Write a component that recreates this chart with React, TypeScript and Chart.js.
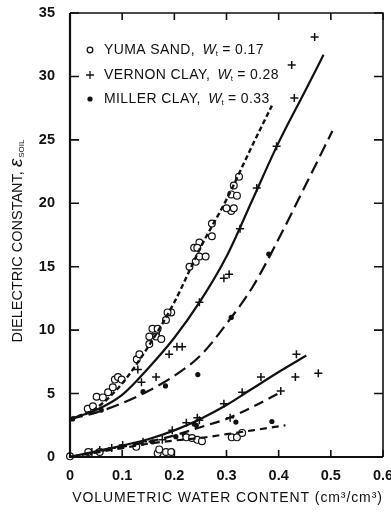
import React, { useEffect, useRef } from "react";
import { Chart, registerables } from "chart.js";
Chart.register(...registerables);

// ---- measured points (real part, upper group) ----
const yumaUpperX = [0.034, 0.044, 0.051, 0.063, 0.073, 0.082, 0.086, 0.092, 0.099, 0.128, 0.133, 0.152, 0.165, 0.158, 0.165, 0.152, 0.175, 0.168, 0.184, 0.194, 0.187, 0.229, 0.241, 0.248, 0.26, 0.238, 0.248, 0.244, 0.272, 0.272, 0.309, 0.314, 0.3, 0.309, 0.32, 0.314, 0.324];
const yumaUpperY = [3.8, 4.0, 4.75, 4.7, 5.1, 5.5, 6.1, 6.3, 6.1, 7.7, 8.1, 8.9, 9.8, 10.1, 9.5, 9.5, 9.3, 10.1, 10.8, 11.4, 11.4, 15.0, 15.4, 15.8, 15.8, 16.5, 16.9, 16.5, 17.4, 18.4, 19.4, 19.6, 19.6, 20.7, 20.6, 21.4, 22.1];
const vernonUpperX = [0.13, 0.137, 0.165, 0.19, 0.205, 0.215, 0.248, 0.295, 0.305, 0.326, 0.358, 0.396, 0.43, 0.425, 0.469];
const vernonUpperY = [6.9, 5.9, 6.3, 8.1, 8.7, 8.7, 12.2, 14.1, 14.4, 18.0, 21.2, 24.5, 28.3, 30.9, 33.1];
const millerUpperX = [0.005, 0.06, 0.14, 0.183, 0.245, 0.309, 0.381];
const millerUpperY = [3.0, 3.7, 5.15, 5.6, 6.5, 11.0, 16.0];

// ---- measured points (lower group) ----
const yumaLowerX = [0.0, 0.035, 0.057, 0.127, 0.168, 0.171, 0.184, 0.194, 0.223, 0.234, 0.244, 0.253, 0.31, 0.32, 0.33];
const yumaLowerY = [0.05, 0.4, 0.4, 0.8, 0.3, 0.6, 0.4, 0.4, 1.55, 1.5, 1.35, 1.25, 1.55, 1.55, 1.9];
const vernonLowerX = [0.042, 0.057, 0.08, 0.101, 0.14, 0.177, 0.196, 0.223, 0.248, 0.244, 0.307, 0.295, 0.33, 0.404, 0.366, 0.432, 0.476, 0.434];
const vernonLowerY = [0.4, 0.55, 0.7, 0.95, 1.2, 1.35, 2.1, 2.7, 2.9, 3.1, 3.1, 4.2, 5.1, 5.2, 6.3, 6.3, 6.6, 8.1];
const millerLowerX = [0.099, 0.158, 0.203, 0.219, 0.238, 0.242, 0.318, 0.387];
const millerLowerY = [0.8, 1.2, 1.6, 1.75, 2.6, 2.5, 2.75, 2.8];

// ---- fitted curves ----
const yumaCurveX = [0, 0.05, 0.1, 0.15, 0.2, 0.25, 0.3, 0.35, 0.387];
const yumaCurveY = [3.0, 3.85, 5.8, 8.7, 12.2, 16.5, 20.3, 24.6, 27.7];
const vernonCurveX = [0, 0.05, 0.1, 0.15, 0.2, 0.25, 0.3, 0.35, 0.4, 0.45, 0.486];
const vernonCurveY = [3.0, 3.7, 4.9, 7.0, 9.4, 12.3, 15.8, 20.3, 24.8, 28.8, 31.7];
const millerCurveX = [0, 0.05, 0.1, 0.15, 0.2, 0.25, 0.3, 0.35, 0.4, 0.45, 0.503];
const millerCurveY = [3.0, 3.5, 4.25, 5.2, 6.4, 8.0, 10.5, 13.4, 17.2, 21.3, 25.7];
const vernonLowCurveX = [0, 0.05, 0.1, 0.15, 0.2, 0.25, 0.3, 0.35, 0.4, 0.453];
const vernonLowCurveY = [0, 0.45, 0.9, 1.4, 2.1, 3.0, 4.1, 5.4, 6.7, 8.0];
const millerLowCurveX = [0, 0.05, 0.1, 0.15, 0.2, 0.25, 0.3, 0.35, 0.406];
const millerLowCurveY = [0, 0.4, 0.8, 1.2, 1.7, 2.35, 3.0, 3.95, 5.15];
const yumaLowCurveX = [0, 0.05, 0.1, 0.15, 0.2, 0.25, 0.3, 0.35, 0.413];
const yumaLowCurveY = [0, 0.35, 0.7, 1.05, 1.3, 1.5, 1.8, 2.1, 2.5];

// ---- axes / labels ----
const xTickValues = [0, 0.1, 0.2, 0.3, 0.4, 0.5, 0.6];
const yTickValues = [0, 5, 10, 15, 20, 25, 30, 35];
const legendNames = ["YUMA SAND, ", "VERNON CLAY, ", "MILLER CLAY, "];
const legendWt = ["0.17", "0.28", "0.33"];
const xTitle = "VOLUMETRIC WATER CONTENT (cm\u00B3/cm\u00B3)";
const yTitleMain = "DIELECTRIC CONSTANT, ";
const yTitleSymbol = "\u03B5";
const yTitleSub = "SOIL";

const FONT = "'Liberation Sans', Arial, sans-serif";
const INK = "#111";

const pts = (xs: number[], ys: number[]) => xs.map((x, i) => ({ x, y: ys[i] }));

const decorPlugin = {
  id: "decor",
  afterDraw(chart: any) {
    const { ctx, chartArea: a, scales } = chart;
    const xs = scales.x, ys = scales.y;
    ctx.save();
    ctx.strokeStyle = INK;
    // frame
    ctx.lineWidth = 2.2;
    ctx.beginPath();
    ctx.moveTo(a.left, a.top); ctx.lineTo(a.left, a.bottom); ctx.lineTo(a.right, a.bottom);
    ctx.stroke();
    ctx.lineWidth = 1.6;
    ctx.beginPath();
    ctx.moveTo(a.left, a.top); ctx.lineTo(a.right, a.top); ctx.lineTo(a.right, a.bottom);
    ctx.stroke();
    // inward ticks
    ctx.lineWidth = 1.6;
    ctx.beginPath();
    xTickValues.forEach((v) => {
      const px = xs.getPixelForValue(v);
      ctx.moveTo(px, a.bottom); ctx.lineTo(px, a.bottom - 7);
      ctx.moveTo(px, a.top); ctx.lineTo(px, a.top + 7);
    });
    yTickValues.forEach((v) => {
      const py = ys.getPixelForValue(v);
      ctx.moveTo(a.left, py); ctx.lineTo(a.left + 9, py);
      ctx.moveTo(a.right, py); ctx.lineTo(a.right - 9, py);
    });
    ctx.stroke();

    ctx.fillStyle = INK;
    ctx.textBaseline = "middle";

    // x title
    ctx.textAlign = "center";
    ctx.font = `14px ${FONT}`;
    (ctx as any).letterSpacing = "0.9px";
    ctx.fillText(xTitle, (a.left + a.right) / 2 + 1, 498);
    (ctx as any).letterSpacing = "0px";

    // y title (rotated, with subscript)
    ctx.textAlign = "left";
    const fMain = `14.5px ${FONT}`;
    const fSym = `italic 19px ${FONT}`;
    const fSub = `8px ${FONT}`;
    ctx.font = fMain; const w1 = ctx.measureText(yTitleMain).width;
    ctx.font = fSym; const w2 = ctx.measureText(yTitleSymbol).width;
    ctx.font = fSub; const w3 = ctx.measureText(yTitleSub).width;
    const total = w1 + w2 + 1 + w3;
    ctx.save();
    ctx.translate(18, 241);
    ctx.rotate(-Math.PI / 2);
    let cx = -total / 2;
    ctx.font = fMain; ctx.fillText(yTitleMain, cx, 0); cx += w1;
    ctx.font = fSym; ctx.fillText(yTitleSymbol, cx, -1); cx += w2 + 1;
    ctx.font = fSub; ctx.fillText(yTitleSub, cx, 4);
    ctx.restore();

    // legend
    const rowsY = [50, 75, 99];
    const markX = 90, textX = 104;
    rowsY.forEach((ry, i) => {
      ctx.lineWidth = 1.3;
      ctx.strokeStyle = INK;
      ctx.fillStyle = INK;
      if (i === 0) {
        ctx.beginPath(); ctx.arc(markX, ry, 2.8, 0, Math.PI * 2); ctx.stroke();
      } else if (i === 1) {
        ctx.beginPath(); ctx.moveTo(markX - 4, ry); ctx.lineTo(markX + 4, ry);
        ctx.moveTo(markX, ry - 4); ctx.lineTo(markX, ry + 4); ctx.stroke();
      } else {
        ctx.beginPath(); ctx.arc(markX, ry, 2.6, 0, Math.PI * 2); ctx.fill();
      }
      let tx = textX;
      ctx.font = `14px ${FONT}`;
      (ctx as any).letterSpacing = "0.4px";
      ctx.fillText(legendNames[i], tx, ry); tx += ctx.measureText(legendNames[i]).width + 3;
      (ctx as any).letterSpacing = "0px";
      ctx.font = `italic 14px ${FONT}`;
      ctx.fillText("W", tx, ry); tx += ctx.measureText("W").width;
      ctx.font = `8px ${FONT}`;
      ctx.fillText("t", tx, ry + 4); tx += ctx.measureText("t").width;
      ctx.font = `14px ${FONT}`;
      (ctx as any).letterSpacing = "0.4px";
      ctx.fillText(" = " + legendWt[i], tx, ry);
      (ctx as any).letterSpacing = "0px";
    });
    ctx.restore();
  },
};

export default function App() {
  const ref = useRef<HTMLCanvasElement | null>(null);
  useEffect(() => {
    document.body.style.margin = "0";
    const canvas = ref.current!;
    const lineDs = (xs: number[], ys: number[], dash: number[], w = 2.2) => ({
      type: "line" as const,
      data: pts(xs, ys),
      borderColor: INK,
      borderWidth: w,
      borderDash: dash,
      pointRadius: 0,
      fill: false,
      tension: 0,
      cubicInterpolationMode: "monotone" as const,
    });
    const circleDs = (xs: number[], ys: number[]) => ({
      type: "scatter" as const,
      data: pts(xs, ys),
      pointStyle: "circle",
      pointRadius: 3.4,
      borderWidth: 1.2,
      borderColor: INK,
      backgroundColor: "#fff",
      clip: 8,
    });
    const crossDs = (xs: number[], ys: number[]) => ({
      type: "scatter" as const,
      data: pts(xs, ys),
      pointStyle: "cross",
      pointRadius: 4,
      borderWidth: 1.5,
      borderColor: INK,
      backgroundColor: INK,
      clip: 8,
    });
    const dotDs = (xs: number[], ys: number[]) => ({
      type: "scatter" as const,
      data: pts(xs, ys),
      pointStyle: "circle",
      pointRadius: 2.6,
      borderWidth: 0,
      borderColor: INK,
      backgroundColor: INK,
      clip: 8,
    });
    const tickFont = { family: FONT, size: 14.5, weight: "bold" as const };
    const chart = new Chart(canvas, {
      type: "scatter",
      data: {
        datasets: [
          lineDs(yumaCurveX, yumaCurveY, [5, 3], 2.4),
          lineDs(vernonCurveX, vernonCurveY, []),
          lineDs(millerCurveX, millerCurveY, [13, 6]),
          lineDs(vernonLowCurveX, vernonLowCurveY, []),
          lineDs(millerLowCurveX, millerLowCurveY, [10, 6]),
          lineDs(yumaLowCurveX, yumaLowCurveY, [7, 5]),
          circleDs(yumaUpperX, yumaUpperY),
          crossDs(vernonUpperX, vernonUpperY),
          dotDs(millerUpperX, millerUpperY),
          circleDs(yumaLowerX, yumaLowerY),
          crossDs(vernonLowerX, vernonLowerY),
          dotDs(millerLowerX, millerLowerY),
        ] as any,
      },
      options: {
        animation: false,
        responsive: false,
        maintainAspectRatio: false,
        layout: { padding: { left: 0, right: 8, top: 13, bottom: 0 } },
        plugins: { legend: { display: false }, tooltip: { enabled: false } },
        scales: {
          x: {
            type: "linear",
            min: 0,
            max: 0.6,
            grid: { display: false, drawTicks: false },
            border: { display: false },
            ticks: {
              stepSize: 0.1,
              padding: 10,
              color: INK,
              font: tickFont,
              callback: (v: any) => (Number(v) === 0 ? "0" : Number(v).toFixed(1)),
            },
            title: { display: false },
            afterFit: (s: any) => {
              s.height = 55;
              s.paddingLeft = 0;
              s.paddingRight = 0;
            },
          },
          y: {
            type: "linear",
            min: 0,
            max: 35,
            grid: { display: false, drawTicks: false },
            border: { display: false },
            ticks: {
              stepSize: 5,
              padding: 15,
              color: INK,
              font: tickFont,
            },
            afterFit: (s: any) => {
              s.width = 70;
              s.paddingTop = 0;
              s.paddingBottom = 0;
            },
          },
        },
      } as any,
      plugins: [decorPlugin],
    });
    return () => chart.destroy();
  }, []);
  return <canvas ref={ref} width={391} height={512} style={{ display: "block" }} />;
}
